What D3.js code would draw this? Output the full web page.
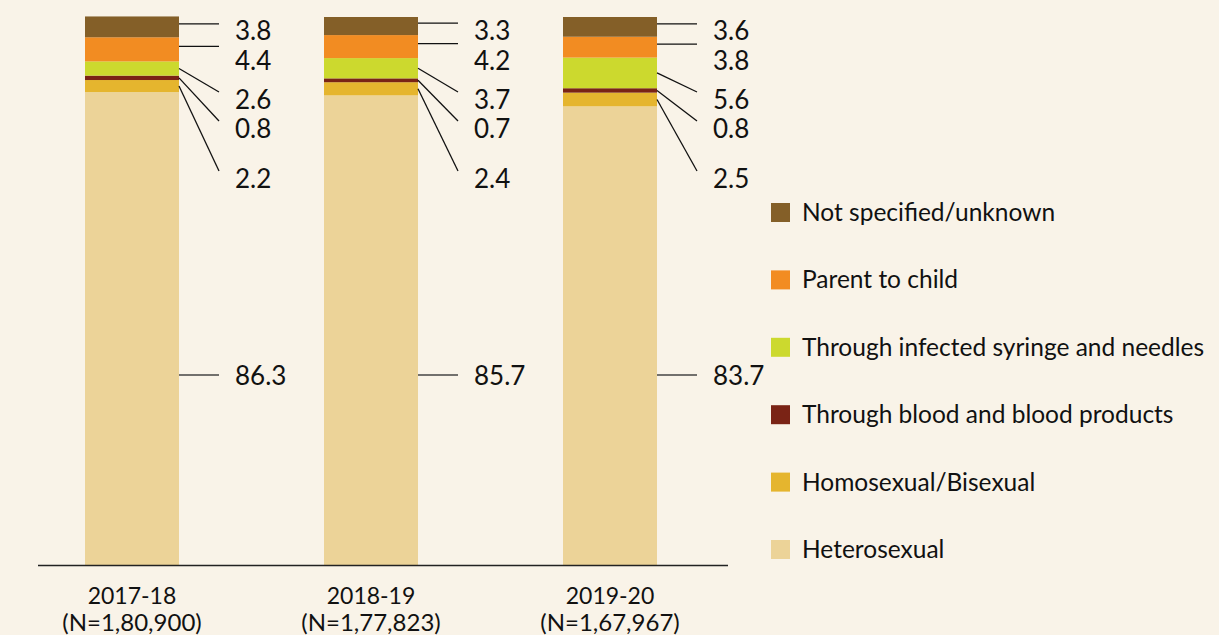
<!DOCTYPE html>
<html>
<head>
<meta charset="utf-8">
<script src="https://cdn.jsdelivr.net/npm/d3@7"></script>
<style>
  html, body { margin: 0; padding: 0; background: #f9f3e8; }
  svg { display: block; font-family: Lato, "Noto Sans", sans-serif; }
</style>
</head>
<body>
<div id="chart"></div>
<script>
// data
var years = ["2017-18", "2018-19", "2019-20"];
var totals = ["(N=1,80,900)", "(N=1,77,823)", "(N=1,67,967)"];
// stacking order: bottom to top
var series = ["Heterosexual", "Homosexual/Bisexual", "Through blood and blood products",
              "Through infected syringe and needles", "Parent to child", "Not specified/unknown"];
var heterosexual = [86.3, 85.7, 83.7];
var homoBi = [2.2, 2.4, 2.5];
var blood = [0.8, 0.7, 0.8];
var syringe = [2.6, 3.7, 5.6];
var parentChild = [4.4, 4.2, 3.8];
var unknown = [3.8, 3.3, 3.6];
var colors = ["#ecd398", "#e5b52e", "#7a2315", "#ccd92e", "#f28c22", "#845f28"];

(function()
{
    var W = 1219, H = 635;
    var svg = d3.select("#chart").append("svg")
        .attr("width", W)
        .attr("height", H);

    svg.append("rect").attr("width", W).attr("height", H).attr("fill", "#f9f3e8");

    var rows = years.map(function(y, i) {
        return {
            year: y,
            "Heterosexual": heterosexual[i],
            "Homosexual/Bisexual": homoBi[i],
            "Through blood and blood products": blood[i],
            "Through infected syringe and needles": syringe[i],
            "Parent to child": parentChild[i],
            "Not specified/unknown": unknown[i]
        };
    });

    var stack = d3.stack().keys(series);
    var layers = stack(rows);

    var baseY = 565;
    var x = d3.scaleBand().domain(years).range([85, 657]).paddingInner(0.6067).paddingOuter(0);
    var y = d3.scaleLinear().domain([0, 100]).range([baseY, 17]);
    var color = d3.scaleOrdinal().domain(series).range(colors);

    // bars
    svg.append("g").selectAll("g")
        .data(layers)
        .enter().append("g")
        .attr("fill", function(d) { return color(d.key); })
        .selectAll("rect")
        .data(function(d) { return d; })
        .enter().append("rect")
        .attr("x", function(d) { return x(d.data.year); })
        .attr("width", x.bandwidth())
        .attr("y", function(d) { return y(d[1]); })
        .attr("height", function(d) { return y(d[0]) - y(d[1]); });

    // value labels with leader lines; label slots (top-down)
    var slotY = {
        "Not specified/unknown": 31,
        "Parent to child": 61,
        "Through infected syringe and needles": 100,
        "Through blood and blood products": 129,
        "Homosexual/Bisexual": 179,
        "Heterosexual": 376
    };
    var lbl = svg.append("g");
    layers.forEach(function(layer) {
        layer.forEach(function(d) {
            var x0 = x(d.data.year) + x.bandwidth();
            var mid = (y(d[0]) + y(d[1])) / 2;
            var ly = slotY[layer.key];
            var horiz = (layer.key === "Not specified/unknown" || layer.key === "Parent to child");
            var y0, y1;
            if (layer.key === "Heterosexual") { y0 = y1 = ly - 1; }
            else if (horiz) { y0 = y1 = mid - 3; }
            else { y0 = mid; y1 = ly - 8; }
            lbl.append("line")
                .attr("x1", x0).attr("y1", y0)
                .attr("x2", x0 + 40).attr("y2", y1)
                .attr("stroke", layer.key === "Heterosexual" ? "#444" : "#111")
                .attr("stroke-width", 1.3);
            lbl.append("text")
                .attr("x", x0 + 56)
                .attr("y", ly + 9)
                .attr("font-size", 26)
                .attr("fill", "#111")
                .text(d.data[layer.key].toFixed(1));
        });
    });

    // baseline
    svg.append("line")
        .attr("x1", 38).attr("x2", 728)
        .attr("y1", baseY + 0.5).attr("y2", baseY + 0.5)
        .attr("stroke", "#222").attr("stroke-width", 1.3);

    // x axis labels
    var xl = svg.append("g");
    years.forEach(function(yr, i) {
        var cx = x(yr) + x.bandwidth() / 2;
        xl.append("text").attr("x", cx).attr("y", 604)
            .attr("text-anchor", "middle").attr("font-size", 23).attr("fill", "#111")
            .text(yr);
        xl.append("text").attr("x", cx).attr("y", 631)
            .attr("text-anchor", "middle").attr("font-size", 24).attr("fill", "#111")
            .text(totals[i]);
    });

    // legend (top to bottom)
    var legendKeys = series.slice().reverse();
    var legend = svg.append("g").selectAll("g")
        .data(legendKeys)
        .enter().append("g")
        .attr("transform", function(d, i) { return "translate(771," + (203 + i * 67.4) + ")"; });
    legend.append("rect")
        .attr("width", 19).attr("height", 19)
        .attr("fill", function(d) { return color(d); });
    legend.append("text")
        .attr("x", 31).attr("y", 18)
        .attr("font-size", 24.5).attr("fill", "#111")
        .text(function(d) { return d; });
})();
</script>
</body>
</html>
